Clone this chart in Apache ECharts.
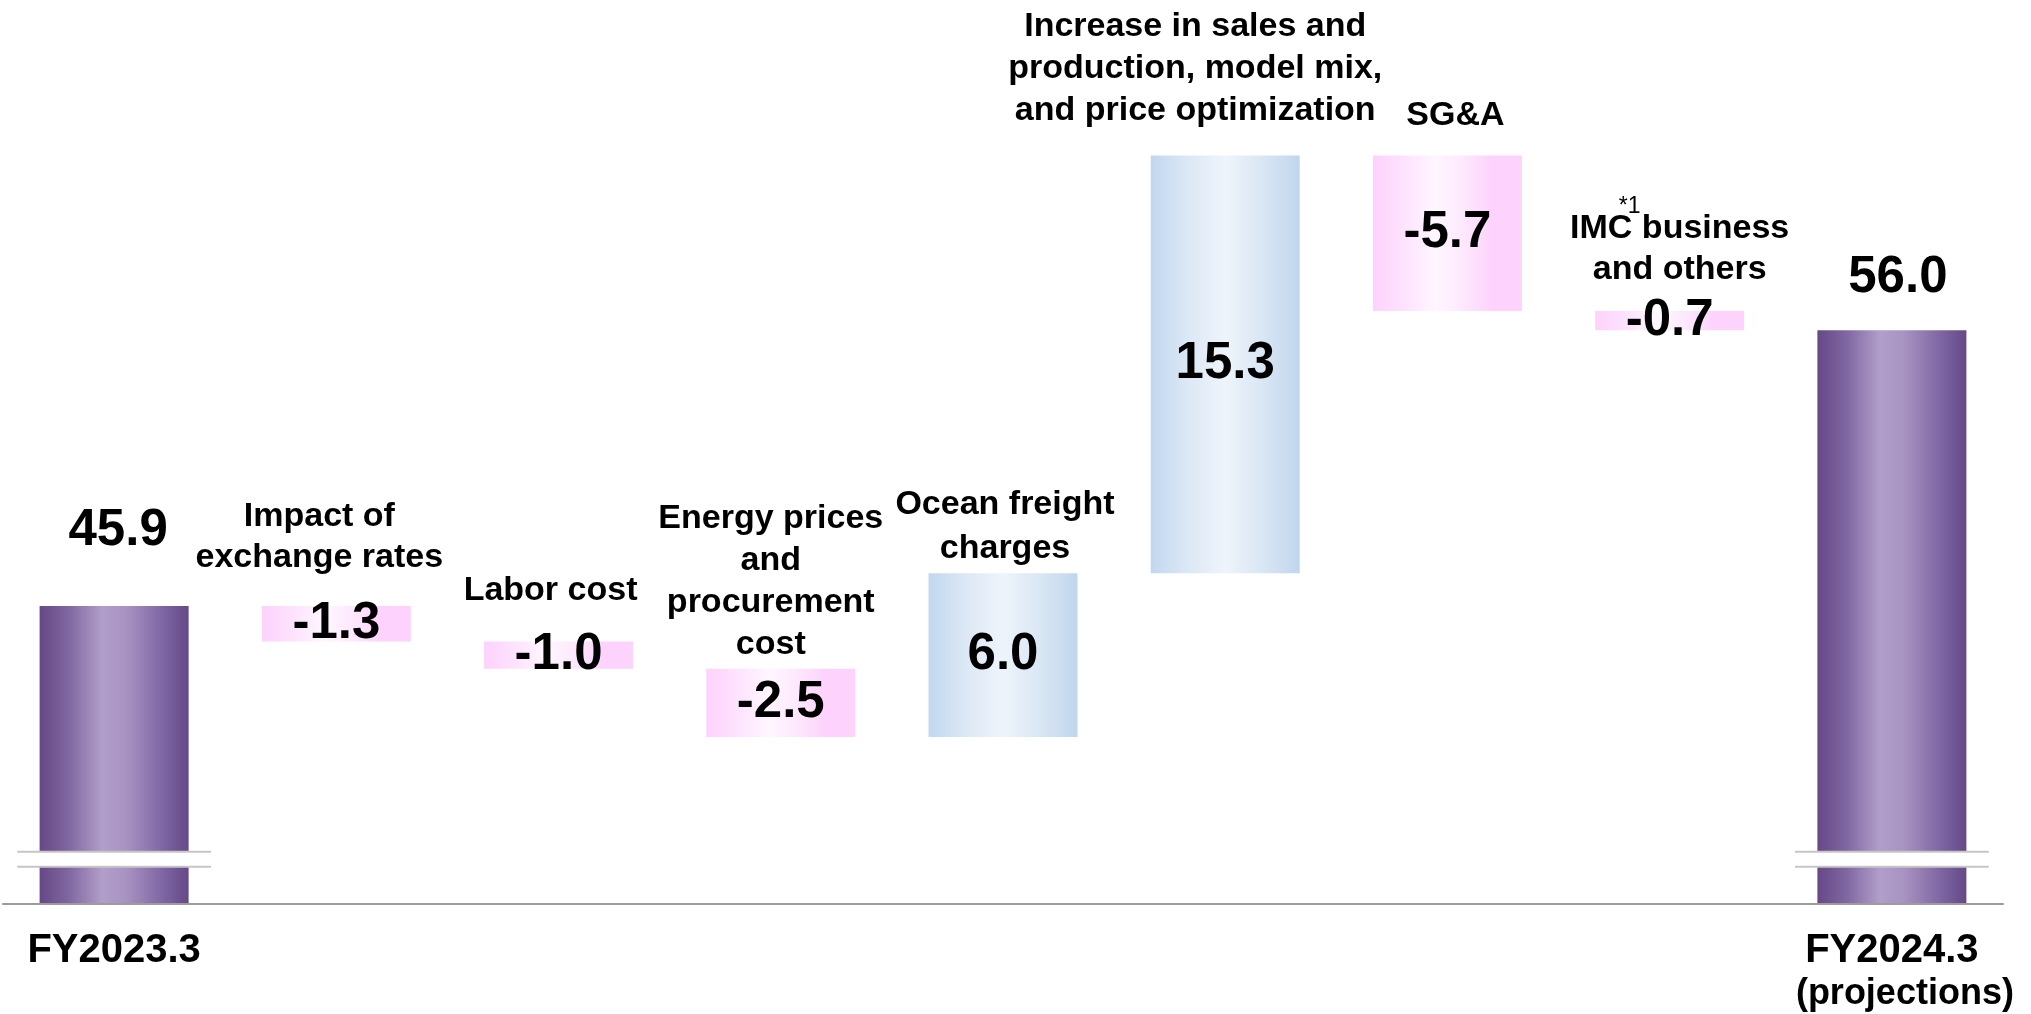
<!DOCTYPE html>
<html>
<head>
<meta charset="utf-8">
<title>Operating profit bridge</title>
<script src="https://cdn.jsdelivr.net/npm/echarts@6/dist/echarts.min.js"></script>
<style>
  html, body { margin: 0; padding: 0; background: #ffffff; }
  #chart { width: 2031px; height: 1014px; }
</style>
</head>
<body>
<div id="chart"></div>
<script>
// ---- data ----
const categories = [
  'FY2023.3',
  'Impact of\nexchange rates',
  'Labor cost',
  'Energy prices\nand\nprocurement\ncost',
  'Ocean freight\ncharges',
  'Increase in sales and\nproduction, model mix,\nand price optimization',
  'SG&A',
  'IMC business\nand others',
  'FY2024.3\n(projections)'
];
const startValue = 45.9;
const changes = [-1.3, -1.0, -2.5, 6.0, 15.3, -5.7, -0.7];
const endValue = 56.0;
// footnote marker attached to a step caption
const footnotes = [{ index: 7, text: '*1' }];

// ---- layout of the step captions (x shift, gap above the box, line height) ----
const captionLayout = [
  null,
  { dx: -17, gap: 28, lh: 41 },
  { dx: -8,  gap: 30, lh: 41 },
  { dx: -10, gap: 3,  lh: 42 },
  { dx: 2,   gap: 3,  lh: 44 },
  { dx: -30, gap: 24, lh: 42 },
  { dx: 8,   gap: 19, lh: 41 },
  { dx: 10,  gap: 21, lh: 41 },
  null
];
const footnoteLayout = { dx: -40, gap: 93 };
const totalLabelGap = [49, 27];
// value band hidden by the axis-break marks on the total columns
const axisBreak = [36.35, 36.9];

const FONT = '"Liberation Sans", Arial, Helvetica, sans-serif';

function hGrad(stops) {
  return new echarts.graphic.LinearGradient(0, 0, 1, 0,
    stops.map(s => ({ offset: s[0], color: s[1] })));
}
const purpleFill = () => hGrad([[0, '#664886'], [0.2, '#8068a2'], [0.42, '#b19ec9'],
  [0.58, '#a893c2'], [0.85, '#7a62a0'], [1, '#664886']]);
const pinkFill = () => hGrad([[0, '#fdd2fc'], [0.18, '#fde0fd'], [0.42, '#fff6ff'],
  [0.6, '#fde9fd'], [0.8, '#fdd2fc'], [1, '#fdd2fc']]);
const blueFill = () => hGrad([[0, '#c1d7ee'], [0.25, '#dce8f5'], [0.5, '#eef4fb'],
  [0.75, '#d9e6f4'], [1, '#c0d6ed']]);

// ---- waterfall construction ----
const baseData = ['-'];
const stepData = ['-'];
const totalData = [{
  value: startValue,
  label: { distance: totalLabelGap[0], offset: [4, 0] }
}];
const captionData = [];
let running = startValue;
changes.forEach((d, k) => {
  const i = k + 1;
  const next = running + d;
  const low = Math.min(running, next);
  const high = Math.max(running, next);
  baseData.push(+low.toFixed(2));
  stepData.push({
    value: Math.abs(d),
    delta: d,
    itemStyle: { color: d >= 0 ? blueFill() : pinkFill() }
  });
  totalData.push('-');
  captionData.push([i, +high.toFixed(2)]);
  running = next;
});
baseData.push('-');
stepData.push('-');
totalData.push({ value: endValue, label: { distance: totalLabelGap[1], offset: [6, 0] } });

const totalIdx = [0, categories.length - 1];

const chart = echarts.init(document.getElementById('chart'), null, { renderer: 'canvas' });

chart.setOption({
  backgroundColor: '#ffffff',
  animation: false,
  grid: { left: 3, right: 28, top: 84.5, bottom: 110.5, containLabel: false, outerBoundsMode: 'none' },
  xAxis: {
    type: 'category',
    data: categories,
    z: 3,
    axisLine: { show: true, lineStyle: { color: '#9c9c9c', width: 2 } },
    axisTick: { show: false },
    splitLine: { show: false },
    axisLabel: {
      interval: 0,
      margin: 26,
      color: '#000',
      fontFamily: FONT,
      fontWeight: 'bold',
      fontSize: 40,
      lineHeight: 43,
      formatter: (v, i) => {
        if (totalIdx.indexOf(i) < 0) return '';
        const lines = v.split('\n');
        return lines.map((t, j) => (j === 0 ? '{a|' + t + '}' : '{p|' + t + '}')).join('\n');
      },
      rich: {
        a: { fontSize: 40, lineHeight: 43, fontWeight: 'bold', fontFamily: FONT, color: '#000' },
        p: { fontSize: 36, lineHeight: 43, fontWeight: 'bold', fontFamily: FONT, color: '#000',
             padding: [0, 0, 0, 26] }
      }
    }
  },
  yAxis: {
    type: 'value',
    min: 35,
    max: 65,
    interval: 5,
    show: false,
    splitLine: { show: false }
  },
  series: [
    {
      name: 'base',
      type: 'bar',
      stack: 'wf',
      silent: true,
      barWidth: 149,
      itemStyle: { color: 'rgba(0,0,0,0)' },
      data: baseData
    },
    {
      name: 'change',
      type: 'bar',
      stack: 'wf',
      barWidth: 149,
      data: stepData,
      label: {
        show: true,
        position: 'inside',
        color: '#000',
        fontFamily: FONT,
        fontWeight: 'bold',
        fontSize: 51,
        formatter: p => p.data.delta.toFixed(1)
      }
    },
    {
      name: 'total',
      type: 'bar',
      stack: 'wf',
      barWidth: 149,
      itemStyle: { color: purpleFill() },
      data: totalData,
      label: {
        show: true,
        position: 'top',
        color: '#000',
        fontFamily: FONT,
        fontWeight: 'bold',
        fontSize: 51,
        lineHeight: 51,
        formatter: p => Number(p.value).toFixed(1)
      }
    },
    {
      // step captions, anchored to the top edge of each step box
      name: 'captions',
      type: 'custom',
      silent: true,
      z: 4,
      data: captionData,
      encode: { x: 0, y: 1 },
      renderItem: (params, api) => {
        const i = api.value(0);
        const p = api.coord([i, api.value(1)]);
        const lay = captionLayout[i];
        const children = [{
          type: 'text',
          x: p[0] + lay.dx,
          y: p[1] - lay.gap,
          style: {
            text: categories[i],
            fill: '#000000',
            fontSize: 34,
            fontWeight: 'bold',
            fontFamily: FONT,
            align: 'center',
            verticalAlign: 'bottom',
            lineHeight: lay.lh
          }
        }];
        footnotes.filter(f => f.index === i).forEach(f => {
          children.push({
            type: 'text',
            x: p[0] + footnoteLayout.dx,
            y: p[1] - footnoteLayout.gap,
            style: {
              text: f.text,
              fill: '#000000',
              fontSize: 23,
              fontWeight: 'normal',
              fontFamily: FONT,
              align: 'center',
              verticalAlign: 'bottom',
              lineHeight: 23
            }
          });
        });
        return { type: 'group', children: children };
      }
    },
    {
      name: 'axisBreak',
      type: 'custom',
      silent: true,
      z: 5,
      data: totalIdx.map(i => [i]),
      encode: { x: 0 },
      renderItem: (params, api) => {
        const idx = api.value(0);
        const upper = api.coord([idx, axisBreak[1]]);
        const lower = api.coord([idx, axisBreak[0]]);
        const half = api.size([1, 0])[0] * 0.436;
        const x1 = upper[0] - half;
        const x2 = upper[0] + half;
        return {
          type: 'group',
          children: [
            { type: 'rect', shape: { x: x1, y: upper[1], width: x2 - x1, height: lower[1] - upper[1] },
              style: { fill: '#ffffff' } },
            { type: 'line', shape: { x1: x1, y1: upper[1], x2: x2, y2: upper[1] },
              style: { stroke: '#c6c6c6', lineWidth: 2 } },
            { type: 'line', shape: { x1: x1, y1: lower[1], x2: x2, y2: lower[1] },
              style: { stroke: '#c6c6c6', lineWidth: 2 } }
          ]
        };
      }
    }
  ]
});
</script>
</body>
</html>
